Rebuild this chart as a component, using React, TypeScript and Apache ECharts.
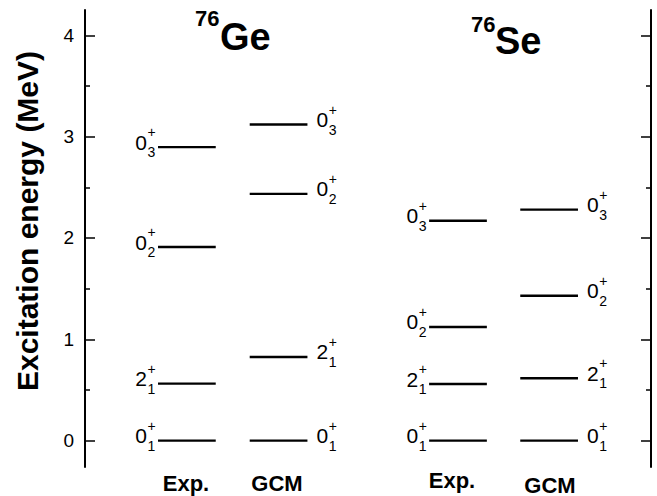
import React, { useEffect, useRef } from "react";
import * as echarts from "echarts";

// Level energies in MeV, ordered 0+_1, 2+_1, 0+_2, 0+_3
const levelSpins = ["0", "2", "0", "0"];
const levelIndices = ["1", "1", "2", "3"];
const ge76Exp = [0, 0.563, 1.911, 2.897];
const ge76Gcm = [0, 0.826, 2.435, 3.12];
const se76Exp = [0, 0.559, 1.122, 2.17];
const se76Gcm = [0, 0.616, 1.43, 2.28];

const columnNames = ["Exp.", "GCM", "Exp.", "GCM"];
const nucleusSymbols = ["Ge", "Se"];
const massNumber = "76";
const yMajorTicks = [0, 1, 2, 3, 4];
const yMinorTicks = [0.5, 1.5, 2.5, 3.5];
const yAxisTitle = "Excitation energy (MeV)";

const FONT = "'Liberation Sans', Arial, Helvetica, sans-serif";
const HALF = 0.51; // half length of a level bar in x units
const Y_MIN = -0.26;
const Y_MAX = 4.25;

type Side = "left" | "right";

function levelRenderer(side: Side) {
  return (params: any, api: any) => {
    const x = api.value(0);
    const y = api.value(1);
    const i = params.dataIndex;
    const a = api.coord([x - HALF, y]);
    const b = api.coord([x + HALF, y]);
    const mainSize = 21;
    const smallSize = 14;
    const mainW = 11.8;
    let mainX: number;
    let scriptX: number;
    let mainAlign: string;
    if (side === "left") {
      mainX = a[0] - 11;
      mainAlign = "right";
      scriptX = mainX + 0.5;
    } else {
      mainX = b[0] + 9;
      mainAlign = "left";
      scriptX = mainX + mainW + 0.5;
    }
    const cy = a[1];
    return {
      type: "group",
      children: [
        {
          type: "line",
          shape: { x1: a[0], y1: cy, x2: b[0], y2: cy },
          style: { stroke: "#000", lineWidth: 2.4 },
        },
        {
          type: "text",
          x: mainX,
          y: cy - 5,
          style: {
            text: levelSpins[i],
            fill: "#000",
            font: `${mainSize}px ${FONT}`,
            align: mainAlign,
            verticalAlign: "middle",
          },
        },
        {
          type: "text",
          x: scriptX,
          y: cy - 15,
          style: {
            text: "+",
            fill: "#000",
            font: `${smallSize}px ${FONT}`,
            align: "left",
            verticalAlign: "middle",
          },
        },
        {
          type: "text",
          x: scriptX,
          y: cy + 5,
          style: {
            text: levelIndices[i],
            fill: "#000",
            font: `${smallSize}px ${FONT}`,
            align: "left",
            verticalAlign: "middle",
          },
        },
      ],
    };
  };
}

const columns: { values: number[]; center: number; side: Side }[] = [
  { values: ge76Exp, center: 1.8, side: "left" },
  { values: ge76Gcm, center: 3.42, side: "right" },
  { values: se76Exp, center: 6.59, side: "left" },
  { values: se76Gcm, center: 8.2, side: "right" },
];

function yAxisBase(position: "left" | "right") {
  return {
    type: "value",
    position,
    min: Y_MIN,
    max: Y_MAX,
    splitLine: { show: false },
  };
}

export default function App() {
  const ref = useRef<HTMLDivElement>(null);

  useEffect(() => {
    if (!ref.current) return;
    const chart = echarts.init(ref.current, null, { renderer: "svg" });

    const text = (
      str: string,
      x: number,
      y: number,
      size: number,
      bold = true,
      align = "left",
      rotation = 0
    ) => ({
      type: "text",
      x,
      y,
      rotation,
      style: {
        text: str,
        fill: "#000",
        font: `${bold ? "bold " : ""}${size}px ${FONT}`,
        align,
        verticalAlign: "middle",
      },
    });

    chart.setOption({
      animation: false,
      backgroundColor: "#fff",
      grid: { left: 85, right: 6, top: 10, bottom: 29 },
      xAxis: { type: "value", min: 0, max: 10, show: false },
      yAxis: [
        {
          ...yAxisBase("left"),
          axisLine: { show: true, lineStyle: { color: "#000", width: 2 } },
          axisTick: {
            show: true,
            inside: true,
            length: 10,
            customValues: yMajorTicks,
            lineStyle: { color: "#000", width: 1.5 },
          },
          axisLabel: {
            show: true,
            customValues: yMajorTicks,
            margin: 11,
            color: "#000",
            fontSize: 19,
            fontFamily: FONT,
          },
        },
        {
          ...yAxisBase("left"),
          axisLine: { show: false },
          axisTick: {
            show: true,
            inside: true,
            length: 5,
            customValues: yMinorTicks,
            lineStyle: { color: "#000", width: 1.5 },
          },
          axisLabel: { show: false },
        },
        {
          ...yAxisBase("right"),
          axisLine: { show: true, lineStyle: { color: "#000", width: 2 } },
          axisTick: {
            show: true,
            inside: true,
            length: 10,
            customValues: yMajorTicks,
            lineStyle: { color: "#000", width: 1.5 },
          },
          axisLabel: { show: false },
        },
        {
          ...yAxisBase("right"),
          axisLine: { show: false },
          axisTick: {
            show: true,
            inside: true,
            length: 5,
            customValues: yMinorTicks,
            lineStyle: { color: "#000", width: 1.5 },
          },
          axisLabel: { show: false },
        },
      ],
      series: columns.map((c) => ({
        type: "custom",
        coordinateSystem: "cartesian2d",
        xAxisIndex: 0,
        yAxisIndex: 0,
        clip: false,
        silent: true,
        encode: { x: 0, y: 1 },
        data: c.values.map((v) => [c.center, v]),
        renderItem: levelRenderer(c.side),
      })),
      graphic: [
        text(yAxisTitle, 27, 221, 30, true, "center", Math.PI / 2),
        text(massNumber, 195, 18, 22),
        text(nucleusSymbols[0], 220, 37, 38),
        text(massNumber, 471, 24, 22),
        text(nucleusSymbols[1], 495, 41, 38),
        text(columnNames[0], 186, 483, 22, true, "center"),
        text(columnNames[1], 277, 483, 22, true, "center"),
        text(columnNames[2], 452, 480, 22, true, "center"),
        text(columnNames[3], 550, 485, 22, true, "center"),
      ],
    });

    return () => chart.dispose();
  }, []);

  return (
    <div
      ref={ref}
      style={{ width: 657, height: 496, position: "absolute", left: 0, top: 0 }}
    />
  );
}
